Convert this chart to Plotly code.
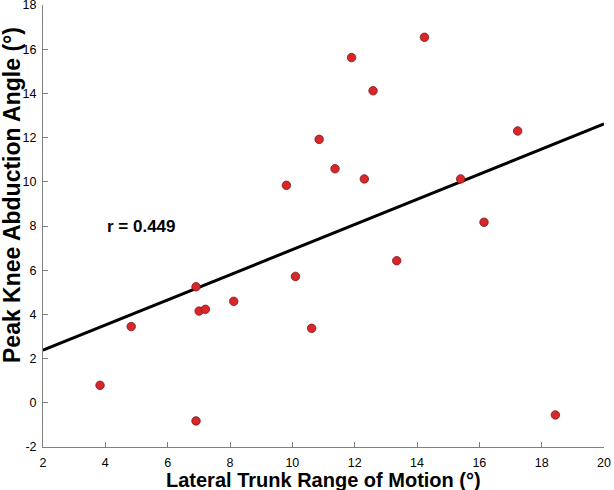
import plotly.graph_objects as go

# Données
trunk_rom = [3.83, 4.83, 6.91, 7.01, 7.21, 8.12, 6.91, 9.81, 10.10, 10.62, 10.86,
             11.37, 11.90, 12.31, 12.59, 13.35, 14.24, 15.40, 16.15, 17.23, 18.44]
knee_abd = [0.79, 3.45, 5.25, 4.15, 4.23, 4.59, -0.82, 9.84, 5.72, 3.37, 11.92,
            10.59, 15.62, 10.13, 14.12, 6.43, 16.54, 10.13, 8.17, 12.30, -0.55]
fit_x = [2, 20]
fit_y = [2.38, 12.62]
x_ticks = [2, 4, 6, 8, 10, 12, 14, 16, 18, 20]
y_ticks = [-2, 0, 2, 4, 6, 8, 10, 12, 14, 16, 18]
y_tick_labels = ["-2", "0", "2", "4", "6", "8", "10", "12", "14", "16", "18"]

font = "Liberation Sans, Arial, sans-serif"
axis_grey = "#7f7f7f"

fig = go.Figure()

#ligne de régression
fig.add_trace(go.Scatter(x=fit_x, y=fit_y, mode="lines", cliponaxis=False,
                         line={"color": "black", "width": 3}, hoverinfo="skip"))

#points
fig.add_trace(go.Scatter(x=trunk_rom, y=knee_abd, mode="markers",
                         marker={"color": "#d9262b", "size": 8.5,
                                 "line": {"color": "#7a1a1a", "width": 0.8}}))

fig.add_annotation(x=5.17, y=7.97, text="<b>r = 0.449</b>", showarrow=False,
                   font={"family": font, "size": 17, "color": "black"})

#titres des axes
fig.add_annotation(x=0.5, y=0, xref="paper", yref="paper", yshift=-33, showarrow=False,
                   xanchor="center", yanchor="middle",
                   text="<b>Lateral Trunk Range of Motion (°)</b>",
                   font={"family": font, "size": 20, "color": "black"})
fig.add_annotation(x=0, y=0.569, xref="paper", yref="paper", xshift=-31.5, showarrow=False,
                   xanchor="center", yanchor="middle",
                   text="<b>Peak Knee Abduction Angle (°)</b>", textangle=-90,
                   font={"family": font, "size": 23, "color": "black"})

axis_common = dict(showgrid=False, zeroline=False, showline=True, linecolor=axis_grey,
                   linewidth=1, ticks="inside", ticklen=5, tickcolor=axis_grey, automargin=False,
                   ticklabeloverflow="allow",
                   tickfont={"family": font, "size": 12.5, "color": "black"}, mirror=False)

fig.update_layout(
    width=614, height=490,
    margin={"l": 43, "r": 10, "t": 5, "b": 43},
    paper_bgcolor="white", plot_bgcolor="white",
    showlegend=False,
    xaxis=dict(axis_common, range=[2, 20], tickvals=x_ticks, ticklabelstandoff=4),
    yaxis=dict(axis_common, range=[-2, 18], tickvals=y_ticks, ticktext=y_tick_labels,
               ticklabelstandoff=3),
)

fig.write_html("out.html", config={"displayModeBar": False},
               post_script="document.body.style.margin = '0';")
